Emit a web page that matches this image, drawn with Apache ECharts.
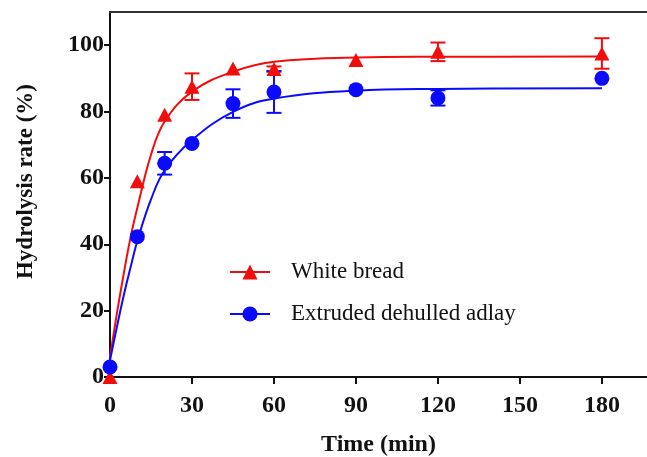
<!DOCTYPE html>
<html>
<head>
<meta charset="utf-8">
<script src="https://cdn.jsdelivr.net/npm/echarts@6/dist/echarts.min.js"></script>
<style>html,body{margin:0;padding:0;background:#fff}#c{width:647px;height:457px}</style>
</head>
<body>
<div id="c"></div>
<script>
const xTicks = [0, 30, 60, 90, 120, 150, 180];
const yTicks = [0, 20, 40, 60, 80, 100];
const times = [0, 10, 20, 30, 45, 60, 90, 120, 180];
const whiteBread = [0, 59, 79, 87.5, 93, 92.8, 95.5, 98, 97.5];
const whiteBreadErr = [0, 0, 0, 4, 0, 0.8, 0, 2.8, 4.6];
const adlay = [3, 42.3, 64.4, 70.4, 82.4, 85.9, 86.6, 84.1, 90];
const adlayErr = [0, 0, 3.4, 0, 4.3, 6.3, 0, 2.3, 0];
// fitted curves
const fitTimes = [0, 2.5, 5, 7.5, 10, 15, 20, 30, 45, 60, 90, 120, 180];
const whiteFit = [6, 19, 31, 42, 51, 67, 77, 86, 92, 95, 96.3, 96.5, 96.6];
const adlayFit = [5, 15, 24.5, 33, 41, 53.5, 62.3, 71.4, 79.9, 83.9, 86.3, 86.8, 87];

const RED = '#f20d0d', BLUE = '#0a0aff';
const pair = (xs, ys) => xs.map((x, i) => [x, ys[i]]);
const errData = (ys, es) => times.map((t, i) => [t, ys[i] - es[i], ys[i] + es[i]]).filter((d, i) => es[i] > 0);

function errRender(color) {
  return function (params, api) {
    const x = api.value(0);
    const lo = api.coord([x, api.value(1)]);
    const hi = api.coord([x, api.value(2)]);
    const w = 7.5;
    const st = { stroke: color, lineWidth: 2 };
    return {
      type: 'group',
      children: [
        { type: 'line', shape: { x1: lo[0], y1: lo[1], x2: hi[0], y2: hi[1] }, style: st },
        { type: 'line', shape: { x1: lo[0] - w, y1: lo[1], x2: lo[0] + w, y2: lo[1] }, style: st },
        { type: 'line', shape: { x1: hi[0] - w, y1: hi[1], x2: hi[0] + w, y2: hi[1] }, style: st }
      ]
    };
  };
}

const font = '"Liberation Serif", "Times New Roman", serif';
const chart = echarts.init(document.getElementById('c'));
chart.setOption({
  animation: false,
  backgroundColor: '#fff',
  grid: { left: 110, top: 12, right: 0, bottom: 80, containLabel: false, outerBoundsMode: 'none' },
  legend: {
    left: 229, top: 260, orient: 'vertical', padding: 0,
    itemWidth: 40, itemHeight: 19, itemGap: 18,
    textStyle: { fontFamily: font, fontSize: 23, color: '#111', lineHeight: 24, padding: [0, 0, 0, 16] },
    data: [
      { name: 'White bread', lineStyle: { width: 2, color: RED, opacity: 1 } },
      { name: 'Extruded dehulled adlay', lineStyle: { width: 2, color: BLUE, opacity: 1 } }
    ]
  },
  xAxis: [{
    type: 'value', min: 0, max: 196.5, interval: 30,
    name: 'Time (min)', nameLocation: 'middle', nameGap: 56,
    nameTextStyle: { fontFamily: font, fontSize: 24, fontWeight: 'bold', color: '#111' },
    axisLine: { lineStyle: { color: '#111', width: 2 } },
    axisTick: { length: 7, lineStyle: { color: '#111', width: 2 } },
    axisLabel: { fontFamily: font, fontSize: 24, fontWeight: 'bold', color: '#111', margin: 17, showMaxLabel: false },
    splitLine: { show: false }
  }, {
    type: 'value', position: 'top', min: 0, max: 196.5,
    axisLine: { show: true, onZero: false, lineStyle: { color: '#333', width: 2 } },
    axisTick: { show: false }, axisLabel: { show: false }, splitLine: { show: false }
  }],
  yAxis: {
    type: 'value', min: 0, max: 110, interval: 20,
    name: 'Hydrolysis rate (%)', nameLocation: 'middle', nameGap: 72,
    nameTextStyle: { fontFamily: font, fontSize: 23, fontWeight: 'bold', color: '#111', padding: [0, 0, 0, 26] },
    axisLine: { show: true, lineStyle: { color: '#111', width: 2 } },
    axisTick: { show: true, length: 6, lineStyle: { color: '#111', width: 2 } },
    axisLabel: { fontFamily: font, fontSize: 24, fontWeight: 'bold', color: '#111', margin: 6, showMaxLabel: false },
    splitLine: { show: false }
  },
  series: [
    { name: 'White fit', type: 'line', data: pair(fitTimes, whiteFit), smooth: 0.4, symbol: 'none',
      lineStyle: { color: RED, width: 2 }, silent: true },
    { name: 'Adlay fit', type: 'line', data: pair(fitTimes, adlayFit), smooth: 0.4, symbol: 'none',
      lineStyle: { color: BLUE, width: 2 }, silent: true },
    { type: 'custom', data: errData(whiteBread, whiteBreadErr), renderItem: errRender(RED), z: 3, clip: false },
    { type: 'custom', data: errData(adlay, adlayErr), renderItem: errRender(BLUE), z: 3, clip: false },
    { name: 'White bread', type: 'line', data: pair(times, whiteBread), symbol: 'triangle', symbolSize: [15, 14],
      itemStyle: { color: RED }, lineStyle: { width: 0, opacity: 0, color: RED }, z: 5, clip: false },
    { name: 'Extruded dehulled adlay', type: 'line', data: pair(times, adlay), symbol: 'circle', symbolSize: 15,
      itemStyle: { color: BLUE }, lineStyle: { width: 0, opacity: 0, color: BLUE }, z: 5, clip: false }
  ]
});
</script>
</body>
</html>
